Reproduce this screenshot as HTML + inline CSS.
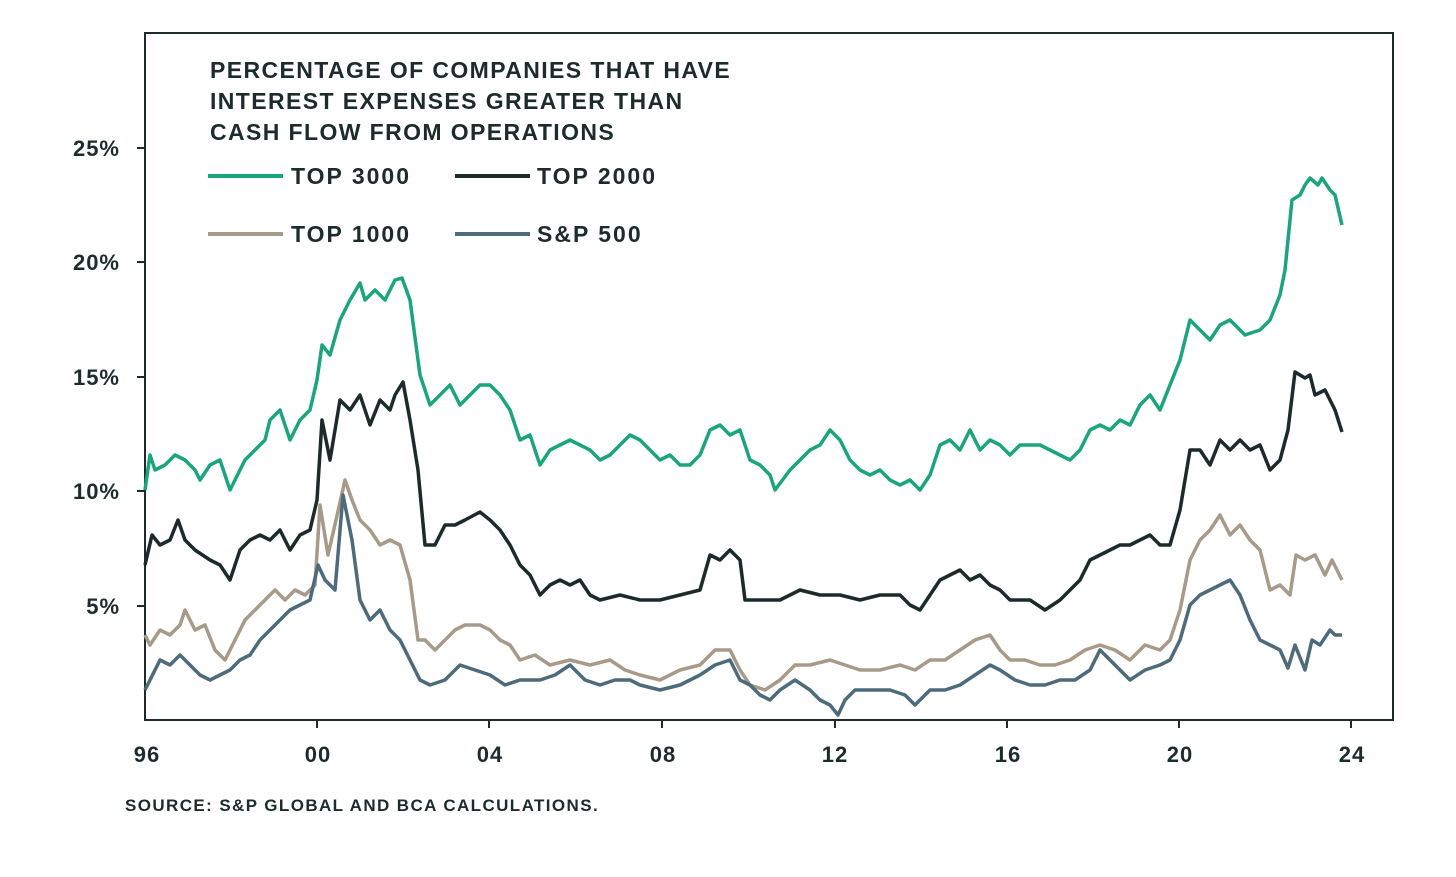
<!DOCTYPE html>
<html><head><meta charset="utf-8"><style>
body{margin:0;background:#fff;}
svg text{font-family:"Liberation Sans",sans-serif;fill:#1e2b2b;}
</style></head><body>
<svg width="1456" height="872" viewBox="0 0 1456 872" xmlns="http://www.w3.org/2000/svg">
<rect x="0" y="0" width="1456" height="872" fill="#fff"/>
<rect x="145" y="33" width="1248" height="687" fill="none" stroke="#1e2b2b" stroke-width="2"/>
<g stroke="#1e2b2b" stroke-width="2">
<line x1="137" y1="148" x2="145" y2="148"/><line x1="137" y1="262" x2="145" y2="262"/><line x1="137" y1="377" x2="145" y2="377"/><line x1="137" y1="491" x2="145" y2="491"/><line x1="137" y1="606" x2="145" y2="606"/>
<line x1="317" y1="720" x2="317" y2="728"/><line x1="489" y1="720" x2="489" y2="728"/><line x1="662" y1="720" x2="662" y2="728"/><line x1="835" y1="720" x2="835" y2="728"/><line x1="1007" y1="720" x2="1007" y2="728"/><line x1="1179" y1="720" x2="1179" y2="728"/><line x1="1351" y1="720" x2="1351" y2="728"/>
</g>
<g font-size="22" font-weight="bold" text-anchor="end" letter-spacing="1">
<text x="120" y="156">25%</text><text x="120" y="270">20%</text><text x="120" y="385">15%</text><text x="120" y="499">10%</text><text x="120" y="614">5%</text>
</g>
<g font-size="22" font-weight="bold" text-anchor="middle" letter-spacing="1">
<text x="147" y="762">96</text><text x="318" y="762">00</text><text x="490" y="762">04</text><text x="663" y="762">08</text><text x="835" y="762">12</text><text x="1008" y="762">16</text><text x="1180" y="762">20</text><text x="1352" y="762">24</text>
</g>
<g font-size="23" font-weight="bold">
<text x="210" y="78" letter-spacing="1.4">PERCENTAGE OF COMPANIES THAT HAVE</text>
<text x="210" y="109" letter-spacing="1.4">INTEREST EXPENSES GREATER THAN</text>
<text x="210" y="140" letter-spacing="1.4">CASH FLOW FROM OPERATIONS</text>
<g letter-spacing="2">
<text x="291" y="184">TOP 3000</text><text x="537" y="184">TOP 2000</text>
<text x="291" y="242">TOP 1000</text><text x="537" y="242">S&amp;P 500</text>
</g>
</g>
<g stroke-width="4">
<line x1="208" y1="176" x2="283" y2="176" stroke="#1ba57c"/>
<line x1="455" y1="176" x2="530" y2="176" stroke="#1c2b2a"/>
<line x1="208" y1="234" x2="283" y2="234" stroke="#a89a88"/>
<line x1="455" y1="234" x2="530" y2="234" stroke="#4d6b7a"/>
</g>
<text x="125" y="811" font-size="17" font-weight="bold" letter-spacing="1.4">SOURCE: S&amp;P GLOBAL AND BCA CALCULATIONS.</text>
<g fill="none" stroke-width="3.5" stroke-linejoin="round">
<polyline stroke="#a89a88" points="145,635 150,645 160,630 170,635 180,625 185,610 195,630 205,625 215,650 225,660 235,640 245,620 255,610 265,600 275,590 285,600 295,590 305,595 315,585 320,505 328,555 336,520 345,480 352,500 360,520 370,530 380,545 390,540 400,545 410,580 418,640 425,640 435,650 445,640 455,630 465,625 480,625 490,630 500,640 510,645 520,660 535,655 550,665 570,660 590,665 610,660 625,670 640,675 660,680 680,670 700,665 715,650 730,650 740,670 750,685 765,690 780,680 795,665 810,665 830,660 845,665 860,670 880,670 900,665 915,670 930,660 945,660 960,650 975,640 990,635 1000,650 1010,660 1025,660 1040,665 1055,665 1070,660 1085,650 1100,645 1115,650 1130,660 1145,645 1160,650 1170,640 1180,610 1190,560 1200,540 1210,530 1220,515 1230,535 1240,525 1250,540 1260,550 1270,590 1280,585 1290,595 1296,555 1305,560 1315,555 1325,575 1332,560 1342,580"/>
<polyline stroke="#4d6b7a" points="145,690 150,680 160,660 170,665 180,655 190,665 200,675 210,680 220,675 230,670 240,660 250,655 260,640 270,630 280,620 290,610 300,605 310,600 318,565 325,580 335,590 343,495 352,540 360,600 370,620 380,610 390,630 400,640 410,660 420,680 430,685 445,680 460,665 475,670 490,675 505,685 520,680 540,680 555,675 570,665 585,680 600,685 615,680 630,680 640,685 660,690 680,685 700,675 715,665 730,660 740,680 750,685 760,695 770,700 780,690 795,680 810,690 820,700 830,705 838,715 845,700 855,690 870,690 890,690 905,695 915,705 930,690 945,690 960,685 975,675 990,665 1000,670 1015,680 1030,685 1045,685 1060,680 1075,680 1090,670 1100,650 1110,660 1120,670 1130,680 1145,670 1160,665 1170,660 1180,640 1190,605 1200,595 1210,590 1220,585 1230,580 1240,595 1250,620 1260,640 1270,645 1280,650 1288,668 1295,645 1305,670 1312,640 1320,645 1330,630 1335,635 1342,635"/>
<polyline stroke="#1c2b2a" points="145,565 152,535 160,545 170,540 178,520 185,540 195,550 210,560 220,565 230,580 240,550 250,540 260,535 270,540 280,530 290,550 300,535 310,530 317,500 322,420 330,460 340,400 350,410 360,395 370,425 380,400 390,410 395,395 403,382 410,420 418,470 425,545 435,545 445,525 455,525 465,520 480,512 490,520 500,530 510,545 520,565 530,575 540,595 550,585 560,580 570,585 580,580 590,595 600,600 620,595 640,600 660,600 680,595 700,590 710,555 720,560 730,550 740,560 745,600 760,600 780,600 800,590 820,595 840,595 860,600 880,595 900,595 910,605 920,610 930,595 940,580 950,575 960,570 970,580 980,575 990,585 1000,590 1010,600 1030,600 1045,610 1060,600 1080,580 1090,560 1100,555 1110,550 1120,545 1130,545 1140,540 1150,535 1160,545 1170,545 1180,510 1190,450 1200,450 1210,465 1220,440 1230,450 1240,440 1250,450 1260,445 1270,470 1280,460 1288,430 1295,372 1305,378 1310,375 1315,395 1325,390 1335,410 1342,432"/>
<polyline stroke="#1ba57c" points="145,490 150,455 155,470 165,465 175,455 185,460 195,470 200,480 210,465 220,460 230,490 235,480 245,460 255,450 265,440 270,420 280,410 290,440 300,420 310,410 317,380 322,345 330,355 340,320 350,300 360,283 365,300 375,290 385,300 395,280 402,278 410,300 420,375 430,405 440,395 450,385 460,405 470,395 480,385 490,385 500,395 510,410 520,440 530,435 540,465 550,450 560,445 570,440 580,445 590,450 600,460 610,455 620,445 630,435 640,440 650,450 660,460 670,455 680,465 690,465 700,455 710,430 720,425 730,435 740,430 750,460 760,465 770,475 775,490 790,470 800,460 810,450 820,445 830,430 840,440 850,460 860,470 870,475 880,470 890,480 900,485 910,480 920,490 930,475 940,445 950,440 960,450 970,430 980,450 990,440 1000,445 1010,455 1020,445 1040,445 1060,455 1070,460 1080,450 1090,430 1100,425 1110,430 1120,420 1130,425 1140,405 1150,395 1160,410 1170,385 1180,360 1190,320 1200,330 1210,340 1220,325 1230,320 1245,335 1260,330 1270,320 1280,295 1285,270 1292,200 1300,195 1305,185 1310,178 1318,185 1322,178 1330,190 1335,195 1342,225"/>
</g>
</svg>
</body></html>
